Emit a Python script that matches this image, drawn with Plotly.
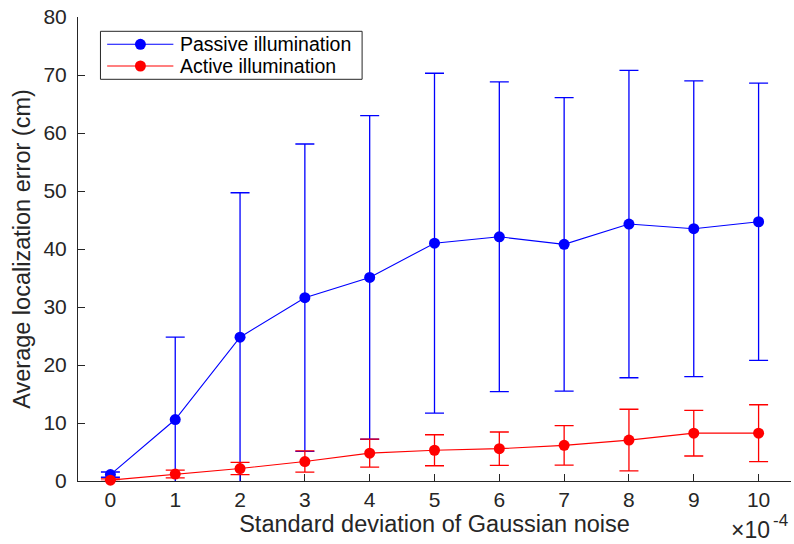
import plotly.graph_objects as go

# Noise level (units of 1e-4) and localization error statistics (cm)
noise_std = [0, 1, 2, 3, 4, 5, 6, 7, 8, 9, 10]
passive_mean = [1.1, 10.6, 24.8, 31.6, 35.1, 41.0, 42.1, 40.8, 44.3, 43.5, 44.7]
passive_std = [0.45, 14.2, 24.9, 26.5, 27.9, 29.3, 26.7, 25.3, 26.5, 25.5, 23.9]
active_mean = [0.15, 1.2, 2.15, 3.35, 4.8, 5.3, 5.58, 6.15, 7.05, 8.25, 8.25]
active_std = [0.2, 0.67, 1.05, 1.83, 2.41, 2.67, 2.87, 3.4, 5.32, 3.94, 4.9]

series_names = ["Passive illumination", "Active illumination"]
y_ticks = [0, 10, 20, 30, 40, 50, 60, 70, 80]

FONT = "Liberation Sans, Arial, Helvetica, sans-serif"
INK = "#262626"
BLUE = "#0000ff"
RED = "#ff0000"

W, H = 794, 544
L, R, T, B = 77.5, 2.5, 16.7, 63.3


def px(x):
    return (x - L) / (W - L - R)


def py(y):
    return 1 - (y - T) / (H - T - B)


fig = go.Figure()

for mean, std, color in [(passive_mean, passive_std, BLUE), (active_mean, active_std, RED)]:
    # error bars (clipped to the axes)
    fig.add_trace(go.Scatter(
        x=noise_std, y=mean, mode="lines", line=dict(width=0, color=color),
        error_y=dict(type="data", array=std, symmetric=True, color=color,
                     thickness=1.3, width=9.5),
        showlegend=False, hoverinfo="skip",
    ))
    # mean curve with markers
    fig.add_trace(go.Scatter(
        x=noise_std, y=mean, mode="lines+markers",
        line=dict(color=color, width=1.1),
        marker=dict(color=color, size=11, symbol="circle"),
        cliponaxis=False, showlegend=False,
    ))

# legend box
shapes = [dict(type="rect", xref="paper", yref="paper",
               x0=px(100), x1=px(362), y0=py(79), y1=py(31),
               line=dict(color=INK, width=1), fillcolor="white", layer="above")]
annotations = []
for i, (name, color) in enumerate(zip(series_names, [BLUE, RED])):
    yc = 44 + i * 21.7
    shapes.append(dict(type="line", xref="paper", yref="paper",
                       x0=px(106.7), x1=px(173), y0=py(yc), y1=py(yc),
                       line=dict(color=color, width=1.1), layer="above"))
    shapes.append(dict(type="circle", xref="paper", yref="paper",
                       x0=px(134.5), x1=px(145.5), y0=py(yc + 5.5), y1=py(yc - 5.5),
                       line=dict(color=color, width=0), fillcolor=color, layer="above"))
    annotations.append(dict(text=name, xref="paper", yref="paper",
                            x=px(178), y=py(yc), xanchor="left", yanchor="middle",
                            showarrow=False, font=dict(family=FONT, size=19.5, color="black")))

# exponent of the x axis
annotations.append(dict(text="×10", xref="paper", yref="paper",
                        x=px(772), y=py(530), xanchor="right", yanchor="middle",
                        showarrow=False, font=dict(family=FONT, size=23, color=INK)))
annotations.append(dict(text="-4", xref="paper", yref="paper",
                        x=px(771), y=py(520), xanchor="left", yanchor="middle",
                        showarrow=False, font=dict(family=FONT, size=17, color=INK)))

fig.update_layout(
    width=W, height=H,
    margin=dict(l=L, r=R, t=T, b=B),
    paper_bgcolor="white", plot_bgcolor="white",
    font=dict(family=FONT, color=INK),
    shapes=shapes, annotations=annotations,
    showlegend=False,
)
fig.update_xaxes(
    range=[-0.5, 10.5], tickvals=noise_std, ticktext=[str(v) for v in noise_std],
    showgrid=False, zeroline=False, showline=True, linecolor=INK, linewidth=1,
    ticks="inside", ticklen=7, tickcolor=INK, tickfont=dict(size=21, color=INK),
    title=dict(text="Standard deviation of Gaussian noise", font=dict(size=23.5, color=INK), standoff=4),
    layer="below traces",
)
fig.update_yaxes(
    range=[0, 80], tickvals=y_ticks,
    showgrid=False, zeroline=False, showline=True, linecolor=INK, linewidth=1,
    ticks="inside", ticklen=7, tickcolor=INK, tickfont=dict(size=21, color=INK),
    ticklabelstandoff=6,
    title=dict(text="Average localization error (cm)", font=dict(size=23.5, color=INK), standoff=6),
    layer="below traces",
)

fig.write_html("out.html")
